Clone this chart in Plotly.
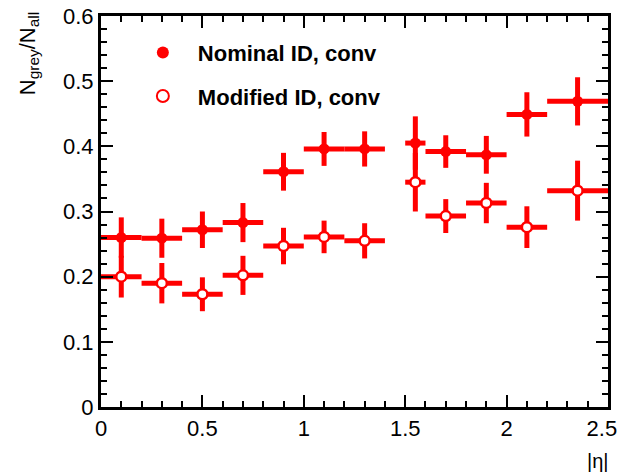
import plotly.graph_objects as go

# Bin centres and half-widths in |eta|
eta = [0.1, 0.3, 0.5, 0.7, 0.9, 1.1, 1.3, 1.55, 1.7, 1.9, 2.1, 2.35]
eta_halfwidth = [0.1, 0.1, 0.1, 0.1, 0.1, 0.1, 0.1, 0.05, 0.1, 0.1, 0.1, 0.15]

# Nominal ID, conv
nominal = [0.260, 0.259, 0.272, 0.283, 0.361, 0.396, 0.396, 0.405, 0.392, 0.387, 0.449, 0.469]
nominal_err = [0.031, 0.030, 0.028, 0.030, 0.029, 0.026, 0.027, 0.041, 0.025, 0.029, 0.034, 0.037]

# Modified ID, conv
modified = [0.200, 0.190, 0.173, 0.202, 0.247, 0.261, 0.255, 0.345, 0.293, 0.313, 0.276, 0.332]
modified_err = [0.032, 0.031, 0.026, 0.030, 0.028, 0.025, 0.027, 0.045, 0.026, 0.031, 0.032, 0.046]

# Tick labels
x_ticks = [0, 0.5, 1, 1.5, 2, 2.5]
x_ticktext = ["0", "0.5", "1", "1.5", "2", "2.5\u00a0\u00a0"]
y_ticks = [0, 0.1, 0.2, 0.3, 0.4, 0.5, 0.6]
y_ticktext = ["0", "0.1", "0.2", "0.3", "0.4", "0.5", "0.6"]

RED = "#ff0000"
FONT = "Liberation Sans, Arial, sans-serif"

fig = go.Figure()

fig.add_trace(go.Scatter(
    x=eta, y=nominal, mode="markers", name="Nominal ID, conv",
    legendgroup="a",
    marker=dict(symbol="circle", size=11, color=RED, line=dict(width=0)),
    error_x=dict(type="data", array=eta_halfwidth, color=RED, thickness=5, width=0),
    error_y=dict(type="data", array=nominal_err, color=RED, thickness=5, width=0),
))
fig.add_trace(go.Scatter(
    x=eta, y=modified, mode="markers", name="Modified ID, conv",
    legendgroup="b",
    marker=dict(symbol="circle", size=10, color="white", line=dict(width=2.5, color=RED)),
    error_x=dict(type="data", array=eta_halfwidth, color=RED, thickness=5, width=0),
    error_y=dict(type="data", array=modified_err, color=RED, thickness=5, width=0),
))

axis_common = dict(
    showline=True, linecolor="black", linewidth=3, mirror="allticks",
    ticks="inside", tickcolor="black", tickwidth=2,
    showgrid=False, zeroline=False, ticklabeloverflow="allow", automargin=False,
    tickfont=dict(family=FONT, size=22, color="black"),
)

fig.update_xaxes(
    range=[0, 2.5], ticklen=12,
    tickvals=x_ticks, ticktext=x_ticktext,
    minor=dict(dtick=0.1, tick0=0, ticklen=6, ticks="inside", tickwidth=2, tickcolor="black"),
    **axis_common,
)
fig.update_yaxes(
    range=[0, 0.6], ticklen=12,
    tickvals=y_ticks, ticktext=y_ticktext,
    minor=dict(dtick=0.02, tick0=0, ticklen=6, ticks="inside", tickwidth=2, tickcolor="black"),
    **axis_common,
)

fig.update_layout(
    width=621, height=476,
    margin=dict(l=101, r=13, t=16, b=69, autoexpand=False),
    plot_bgcolor="white", paper_bgcolor="white",
    font=dict(family=FONT, color="black"),
    showlegend=True,
    legend=dict(
        x=0.053, y=0.96, xanchor="left", yanchor="top",
        bgcolor="rgba(0,0,0,0)", itemwidth=60, itemsizing="constant",
        font=dict(family="Liberation Sans", size=22, color="black", weight="bold"),
        traceorder="grouped", tracegroupgap=12,
    ),
    annotations=[
        dict(text="N<sub>grey</sub>/N<sub>all</sub>", textangle=-90,
             xref="paper", yref="paper", x=-0.143, y=1.015,
             xanchor="center", yanchor="top", showarrow=False,
             font=dict(family=FONT, size=22, color="black")),
        dict(text="|η|", xref="paper", yref="paper", x=1.006, y=-0.105,
             xanchor="right", yanchor="top", showarrow=False,
             font=dict(family=FONT, size=20, color="black")),
    ],
)

fig.write_html("out.html")
